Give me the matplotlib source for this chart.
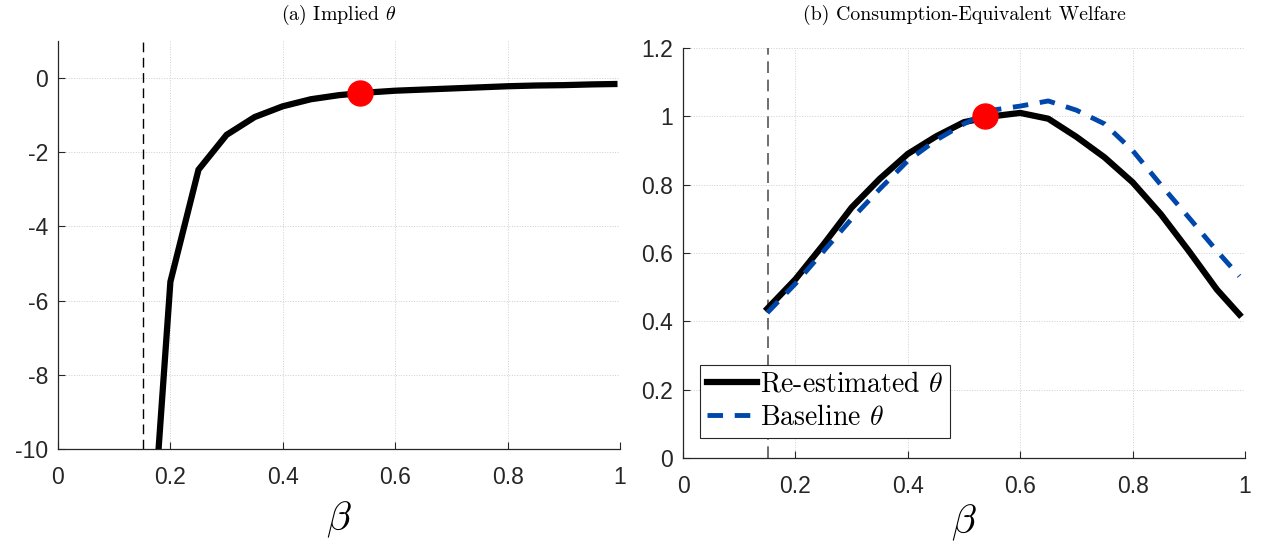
import matplotlib
matplotlib.use('Agg')
import matplotlib.pyplot as plt
import numpy as np

plt.rcParams['mathtext.fontset'] = 'cm'
plt.rcParams['font.family'] = ['Liberation Sans', 'DejaVu Sans']
plt.rcParams['axes.unicode_minus'] = False

# ── data ────────────────────────────────────────
beta = [0.15, 0.2, 0.25, 0.3, 0.35, 0.4, 0.45, 0.5, 0.55, 0.6, 0.65,
        0.7, 0.75, 0.8, 0.85, 0.9, 0.95, 0.99]
theta_implied = [-16.2, -5.49, -2.47, -1.53, -1.05, -0.76, -0.57, -0.46,
                 -0.39, -0.34, -0.31, -0.28, -0.25, -0.22, -0.20, -0.19,
                 -0.17, -0.16]
welfare_reest = [0.437, 0.523, 0.625, 0.733, 0.817, 0.89, 0.941, 0.983,
                 1.0, 1.01, 0.993, 0.94, 0.88, 0.807, 0.714, 0.606, 0.493,
                 0.42]
welfare_base = [0.425, 0.51, 0.605, 0.70, 0.787, 0.87, 0.93, 0.978,
                1.018, 1.03, 1.045, 1.018, 0.978, 0.90, 0.80, 0.704,
                0.606, 0.532]
beta_star = 0.538
theta_star = -0.40
welfare_star = 1.0
beta_min = 0.152

fig = plt.figure(figsize=(12.64, 5.46), dpi=100)
ax1 = fig.add_axes([58/1264, 97/546, 562/1264, 408/546])
ax2 = fig.add_axes([683/1264, 88/546, 562/1264, 410/546])

tick_col = '#262626'
for ax in (ax1, ax2):
    for s in ('top', 'right'):
        ax.spines[s].set_visible(False)
    for s in ('left', 'bottom'):
        ax.spines[s].set_color(tick_col)
        ax.spines[s].set_linewidth(0.9)
    ax.tick_params(direction='in', length=5, width=0.8, colors=tick_col,
                   labelsize=16.5)
    ax.tick_params(axis='x', pad=12)
    ax.tick_params(axis='y', pad=7)
    ax.grid(True, linestyle=':', color='#cfcfcf', linewidth=0.7)
    ax.set_axisbelow(True)
    ax.set_xlim(0, 1)
    ax.set_xticks([0, 0.2, 0.4, 0.6, 0.8, 1])
    ax.set_xticklabels(['0', '0.2', '0.4', '0.6', '0.8', '1'])
ax1.set_xlabel(r'$\beta$', fontsize=29, labelpad=8)
ax2.set_xlabel(r'$\beta$', fontsize=29, labelpad=4)

# Panel (a)
ax1.axvline(beta_min, color='black', linestyle=(0, (7, 4)), linewidth=1.0)
ax1.plot(beta, theta_implied, color='black', linewidth=4.5,
         solid_joinstyle='miter', zorder=3)
ax1.plot(beta_star, theta_star, 'o', color='red', markersize=18, zorder=4)
ax1.set_ylim(-10, 1)
ax1.set_yticks([0, -2, -4, -6, -8, -10])
ax1.set_yticklabels(['0', '-2', '-4', '-6', '-8', '-10'])

# Panel (b)
ax2.axvline(beta_min, color='#555555', linestyle=(0, (7, 4)), linewidth=1.2)
ax2.plot(beta, welfare_reest, color='black', linewidth=4.5,
         label=r'Re-estimated $\theta$', zorder=3)
ax2.plot(beta, welfare_base, color='#0047ab', linewidth=3.5,
         linestyle=(0, (3.2, 2.4)), label=r'Baseline $\theta$', zorder=3)
ax2.plot(beta_star, welfare_star, 'o', color='red', markersize=18, zorder=4)
ax2.set_ylim(0, 1.2)
ax2.set_yticks([0, 0.2, 0.4, 0.6, 0.8, 1, 1.2])
ax2.set_yticklabels(['0', '0.2', '0.4', '0.6', '0.8', '1', '1.2'])

# titles, both on the same baseline
fig.text(339/1264, 1 - 15/546, r'(a) Implied $\theta$', fontsize=14.3,
         family='cmr10', ha='center', va='center')
fig.text(964/1264, 1 - 15/546, '(b) Consumption-Equivalent Welfare',
         fontsize=14.3, family='cmr10', ha='center', va='center')

leg = ax2.legend(loc='lower left', bbox_to_anchor=(17/562, 20/410),
                 prop={'family': 'cmr10', 'size': 20},
                 fancybox=False, framealpha=1, edgecolor='#262626',
                 handlelength=1.8, handletextpad=0.1, borderpad=0.25,
                 labelspacing=0.25, borderaxespad=0)
leg.get_frame().set_linewidth(0.8)

fig.savefig('out.png', dpi=100)
